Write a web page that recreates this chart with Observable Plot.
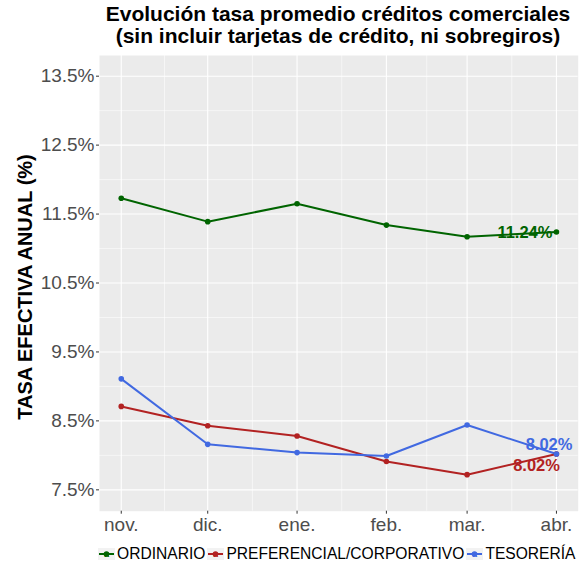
<!DOCTYPE html>
<html>
<head>
<meta charset="utf-8">
<script src="https://cdn.jsdelivr.net/npm/d3@7"></script>
<script src="https://cdn.jsdelivr.net/npm/@observablehq/plot@0.6"></script>
<style>
  body { margin: 0; background: #fff; font-family: "Liberation Sans", Arial, sans-serif; }
  #wrap { position: relative; width: 584px; height: 569px; overflow: hidden; }
  #chart { position: absolute; left: 0; top: 0; }
  #title { position: absolute; left: 38px; width: 600px; top: 3px; text-align: center; font-weight: bold;
           font-size: 21px; line-height: 21.5px; color: #000; white-space: nowrap; }
  #ytitle { position: absolute; left: 25px; top: 287px; transform: translate(-50%, -50%) rotate(-90deg);
            font-weight: bold; font-size: 20px; color: #000; white-space: nowrap; }
  #legend { position: absolute; left: 98px; top: 545px; display: flex; align-items: center; font-size: 15.6px; color: #000; white-space: nowrap; }
  .item { display: flex; align-items: center; margin-right: 2px; }
  .item svg { margin-right: 2px; }
</style>
</head>
<body>
<div id="wrap">
  <div id="chart"></div>
  <div id="title">Evolución tasa promedio créditos comerciales<br>(sin incluir tarjetas de crédito, ni sobregiros)</div>
  <div id="ytitle">TASA EFECTIVA ANUAL (%)</div>
  <div id="legend"></div>
</div>
<script>
// ---- data ----
const months = ["2016-11-01", "2016-12-01", "2017-01-01", "2017-02-01", "2017-03-01", "2017-04-01"];
const monthLabels = ["nov.", "dic.", "ene.", "feb.", "mar.", "abr."];
const seriesNames = ["ORDINARIO", "PREFERENCIAL/CORPORATIVO", "TESORERÍA"];
const ordinario = [11.73, 11.39, 11.65, 11.34, 11.17, 11.24];
const preferencial = [8.71, 8.43, 8.28, 7.91, 7.72, 8.02];
const tesoreria = [9.11, 8.16, 8.04, 7.99, 8.44, 8.02];
const yTicks = [7.5, 8.5, 9.5, 10.5, 11.5, 12.5, 13.5];
const seriesColors = ["#006400", "#B22222", "#4169E1"];

// ---- build ----
const dates = months.map(d => new Date(d + "T00:00:00Z"));
const labelMap = new Map(dates.map((d, i) => [+d, monthLabels[i]]));
const valuesBySeries = [ordinario, preferencial, tesoreria];
const rows = [];
seriesNames.forEach((s, si) => valuesBySeries[si].forEach((v, i) => rows.push({series: s, date: dates[i], value: v})));
const last = seriesNames.map((s, si) => ({series: s, date: dates[dates.length - 1], value: valuesBySeries[si][dates.length - 1]}));

const span = (+dates[dates.length - 1] - +dates[0]) * 0.05;
const xDomain = [new Date(+dates[0] - span), new Date(+dates[dates.length - 1] + span)];
const yDomain = [7.19, 13.80];
const minorX = dates.slice(1).map((d, i) => new Date((+d + +dates[i]) / 2));
const minorY = yTicks.slice(1).map((t, i) => (t + yTicks[i]) / 2);

const fmtPct = v => v.toFixed(2) + "%";
const labelFont = {fontSize: 16.5, fontWeight: "bold", textAnchor: "end", text: d => fmtPct(d.value)};

const chart = Plot.plot({
  width: 584,
  height: 569,
  marginTop: 55,
  marginBottom: 58.3,
  marginLeft: 99,
  marginRight: 6.3,
  style: {fontFamily: "'Liberation Sans', Arial, sans-serif", background: "transparent", color: "#4D4D4D"},
  x: {type: "utc", domain: xDomain},
  y: {domain: yDomain},
  color: {domain: seriesNames, range: seriesColors},
  marks: [
    Plot.frame({fill: "#EBEBEB", stroke: null}),
    Plot.ruleY(minorY, {stroke: "white", strokeWidth: 0.55}),
    Plot.ruleX(minorX, {stroke: "white", strokeWidth: 0.55}),
    Plot.ruleY(yTicks, {stroke: "white", strokeWidth: 1.1}),
    Plot.ruleX(dates, {stroke: "white", strokeWidth: 1.1}),
    Plot.axisX({ticks: dates, tickFormat: d => labelMap.get(+d), tickSize: 3, tickPadding: 3, fontSize: 19, label: null, stroke: "#333"}),
    Plot.axisY({ticks: yTicks, tickFormat: d => d.toFixed(1) + "%", tickSize: 3, tickPadding: 2, fontSize: 19, label: null, stroke: "#333"}),
    Plot.line(rows, {x: "date", y: "value", z: "series", stroke: "series", strokeWidth: 2}),
    Plot.dot(rows, {x: "date", y: "value", fill: "series", r: 2.8}),
    Plot.text(last.filter(d => d.series === seriesNames[0]), {x: "date", y: "value", fill: "series", dx: -4, dy: 1, ...labelFont}),
    Plot.text(last.filter(d => d.series === seriesNames[1]), {x: "date", y: "value", fill: "series", dx: 3.5, dy: 11.3, ...labelFont}),
    Plot.text(last.filter(d => d.series === seriesNames[2]), {x: "date", y: "value", fill: "series", dx: 16, dy: -9.7, ...labelFont})
  ]
});
document.getElementById("chart").appendChild(chart);

// legend
const legend = document.getElementById("legend");
seriesNames.forEach((s, i) => {
  const c = seriesColors[i];
  const item = document.createElement("div");
  item.className = "item";
  item.innerHTML = `<svg width="17" height="12" viewBox="0 0 17 12">
      <rect x="0" y="0" width="17" height="12" fill="#F2F2F2"/>
      <line x1="1" x2="16" y1="6" y2="6" stroke="${c}" stroke-width="2"/>
      <circle cx="8.5" cy="6" r="2.8" fill="${c}"/>
      <text x="8.5" y="9" text-anchor="middle" font-size="9" font-weight="bold" fill="${c}" font-family="Liberation Sans, Arial, sans-serif">a</text>
    </svg><span>${s}</span>`;
  legend.appendChild(item);
});
</script>
</body>
</html>
